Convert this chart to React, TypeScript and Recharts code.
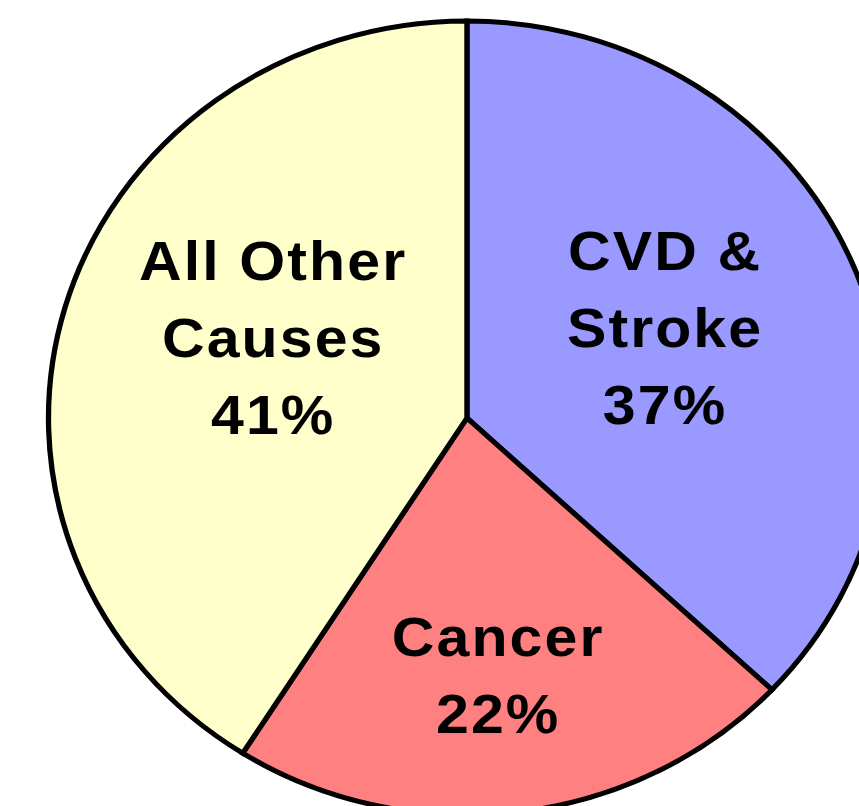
import React from 'react';
import { PieChart, Pie, Cell } from 'recharts';

const categories = ['CVD & Stroke', 'Cancer', 'All Other Causes'];
const labelLines = [['CVD &', 'Stroke'], ['Cancer'], ['All Other', 'Causes']];
const shares = [37, 22, 41];
const colors = ['#9999FF', '#FF8080', '#FFFFCC'];

const data = categories.map((name, i) => ({ name, value: shares[i] }));

// label block centre: fraction of the radius plus a small turn off the slice's mid angle
const labelPlacement = [
  { r: 0.526, turn: 2.4 },
  { r: 0.65, turn: -0.6 },
  { r: 0.506, turn: -7.6 },
];

const RADIAN = Math.PI / 180;
const FONT_SIZE = 56;
const LINE_HEIGHT = 77;
const CAP_HALF = 20;

// the whole pie is stretched a little wider than tall
const STRETCH_X = 1.054;
const WIDTH = 859;
const HEIGHT = 806;

const SliceLabel = (props: any) => {
  const { cx, cy, midAngle, outerRadius, index, value } = props;
  const place = labelPlacement[index];
  const angle = (midAngle + place.turn) * RADIAN;
  const r = outerRadius * place.r;
  const x = cx + r * Math.cos(angle);
  const y = cy - r * Math.sin(angle);
  const lines = [...labelLines[index], `${value}%`];
  const first = y - ((lines.length - 1) / 2) * LINE_HEIGHT + CAP_HALF;
  return (
    <text
      x={x}
      y={first}
      textAnchor="middle"
      fill="#000"
      fontFamily="'Liberation Sans', Arial, sans-serif"
      fontWeight="bold"
      fontSize={FONT_SIZE}
      letterSpacing={2}
    >
      {lines.map((line, i) => (
        <tspan key={i} x={x} y={first + i * LINE_HEIGHT}>
          {line}
        </tspan>
      ))}
    </text>
  );
};

export default function App() {
  return (
    <div
      style={{
        position: 'absolute',
        left: 0,
        top: 0,
        width: WIDTH,
        height: HEIGHT,
        overflow: 'hidden',
        background: '#fff',
      }}
    >
      <div style={{ transform: `scaleX(${STRETCH_X})`, transformOrigin: '0 0' }}>
        <PieChart
          width={Math.round(WIDTH / STRETCH_X)}
          height={HEIGHT}
          margin={{ top: 0, right: 0, bottom: 0, left: 0 }}
        >
          <Pie
            data={data}
            dataKey="value"
            nameKey="name"
            cx={443}
            cy={418}
            outerRadius={397}
            startAngle={90}
            endAngle={-270}
            stroke="#000"
            strokeWidth={5}
            label={SliceLabel}
            labelLine={false}
            isAnimationActive={false}
          >
            {data.map((d, i) => (
              <Cell key={d.name} fill={colors[i]} />
            ))}
          </Pie>
        </PieChart>
      </div>
    </div>
  );
}
